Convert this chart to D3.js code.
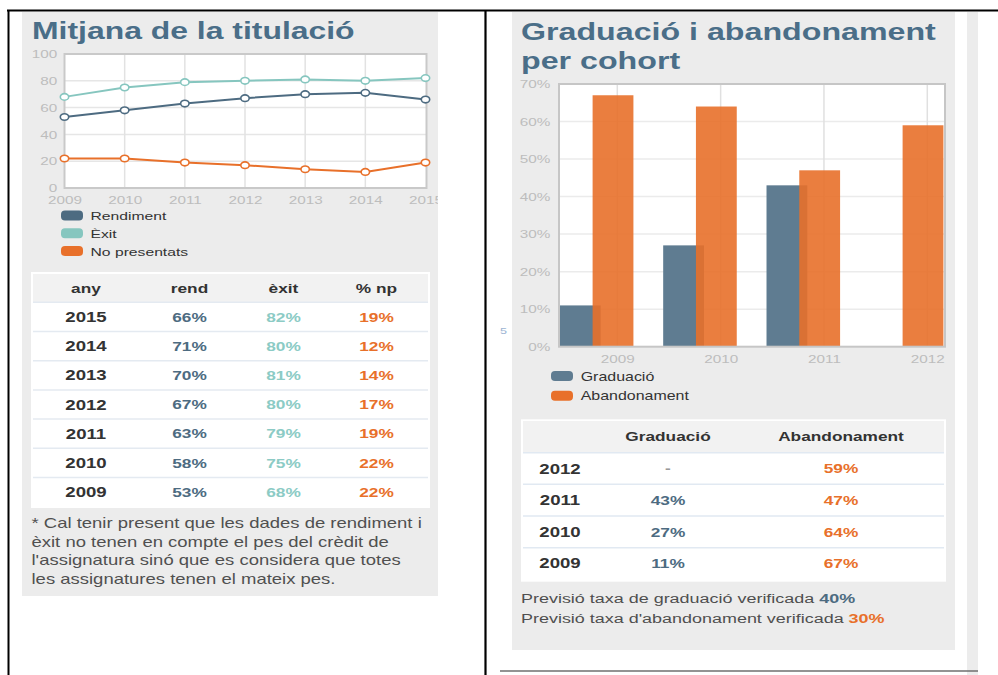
<!DOCTYPE html>
<html>
<head>
<meta charset="utf-8">
<script src="https://cdn.jsdelivr.net/npm/d3@7"></script>
<style>
  body { margin: 0; background: #fff; }
  svg { display: block; font-family: "Liberation Sans", Arial, sans-serif; }
</style>
</head>
<body>
<script>
// ---- data: left panel (Mitjana de la titulació)
var years = [2009, 2010, 2011, 2012, 2013, 2014, 2015];
var rendiment = [53, 58, 63, 67, 70, 71, 66];
var exitRate = [68, 75, 79, 80, 81, 80, 82];
var noPresentats = [22, 22, 19, 17, 14, 12, 19];
var leftTicks = [0, 20, 40, 60, 80, 100];

// ---- data: right panel (Graduació i abandonament per cohort)
var cohorts = [2009, 2010, 2011, 2012];
var graduacio = [11, 27, 43, null];
var abandonament = [67, 64, 47, 59];
var rightTicks = [0, 10, 20, 30, 40, 50, 60, 70];
var previsioGrad = 40, previsioAband = 30;

var footnote = [
  "* Cal tenir present que les dades de rendiment i",
  "èxit no tenen en compte el pes del crèdit de",
  "l'assignatura sinó que es considera que totes",
  "les assignatures tenen el mateix pes."
];

var SX = 1.33; // the picture is stretched sideways
var cRend = "#4d6b81", cExit = "#86c6bf", cNp = "#e8702a";
var cGrad = "#5f7c91", cAband = "#e8702a";
var titleCol = "#4a6e88";

var svg = d3.select("body").append("svg").attr("width", 998).attr("height", 675);

function stext(g, x, y, str, size, fill, weight, anchor) {
  return g.append("text")
    .attr("transform", "translate(" + x + "," + y + ") scale(" + SX + ",1)")
    .attr("font-size", size).attr("fill", fill)
    .attr("font-weight", weight || "normal")
    .attr("text-anchor", anchor || "start")
    .text(str);
}

// ================= LEFT PANEL
svg.append("clipPath").attr("id", "clipL").append("rect")
  .attr("x", 22).attr("y", 12).attr("width", 416).attr("height", 584);
var L = svg.append("g").attr("clip-path", "url(#clipL)");
L.append("rect").attr("x", 22).attr("y", 12).attr("width", 416).attr("height", 584).attr("fill", "#ececec");
stext(L, 32, 39, "Mitjana de la titulació", 24, titleCol, "bold");

var xL = d3.scaleLinear().domain([2009, 2015]).range([64.5, 425.5]);
var yL = d3.scaleLinear().domain([0, 100]).range([188, 54]);

L.append("rect").attr("x", 64.5).attr("y", 54).attr("width", 362).attr("height", 134).attr("fill", "#fff");
L.selectAll(".hg").data(leftTicks.slice(1, -1)).enter().append("line")
  .attr("x1", 64.5).attr("x2", 426.5).attr("y1", d => yL(d)).attr("y2", d => yL(d))
  .attr("stroke", "#e6e6e6").attr("stroke-width", 1.5);
L.selectAll(".vg").data(years.slice(1, -1)).enter().append("line")
  .attr("y1", 54).attr("y2", 188).attr("x1", d => xL(d)).attr("x2", d => xL(d))
  .attr("stroke", "#e2e2e2").attr("stroke-width", 1.5);
L.append("rect").attr("x", 64.5).attr("y", 54).attr("width", 362).attr("height", 134)
  .attr("fill", "none").attr("stroke", "#c9c9c9").attr("stroke-width", 2);

var axL = L.append("g").attr("transform", "translate(64.5,0)")
  .call(d3.axisLeft(yL).tickValues(leftTicks).tickSize(0).tickPadding(5.5));
var axB = L.append("g").attr("transform", "translate(0,188)")
  .call(d3.axisBottom(xL).tickValues(years).tickFormat(d3.format("d")).tickSize(0).tickPadding(7.5));
[axL, axB].forEach(function (a) {
  a.select(".domain").remove();
  a.selectAll("text").attr("transform", "scale(" + SX + ",1)")
    .attr("fill", "#bdbdbd").attr("font-size", 11.5).attr("font-family", "Liberation Sans, Arial, sans-serif");
});

var series = [
  { name: "Èxit", vals: exitRate, color: cExit },
  { name: "Rendiment", vals: rendiment, color: cRend },
  { name: "No presentats", vals: noPresentats, color: cNp }
];
var line = d3.line().x((d, i) => xL(years[i])).y(d => yL(d));
series.forEach(function (s) {
  L.append("path").attr("d", line(s.vals)).attr("fill", "none")
    .attr("stroke", s.color).attr("stroke-width", 2);
  L.selectAll(null).data(s.vals).enter().append("ellipse")
    .attr("cx", (d, i) => xL(years[i])).attr("cy", d => yL(d))
    .attr("rx", 4.2).attr("ry", 3.3).attr("fill", "#fff")
    .attr("stroke", s.color).attr("stroke-width", 1.6);
});

var legL = [["Rendiment", cRend], ["Èxit", cExit], ["No presentats", cNp]];
legL.forEach(function (d, i) {
  var cy = 215.5 + i * 17.8;
  L.append("rect").attr("x", 61).attr("y", cy - 5).attr("width", 22).attr("height", 10)
    .attr("rx", 4).attr("fill", d[1]);
  stext(L, 90.5, cy + 4.5, d[0], 11.8, "#333");
});

// left table
L.append("rect").attr("x", 31).attr("y", 272).attr("width", 399).attr("height", 236).attr("fill", "#fff");
L.append("rect").attr("x", 33).attr("y", 274).attr("width", 395).attr("height", 28).attr("fill", "#f2f2f2");
var colL = [86, 189.5, 283.5, 376.5];
["any", "rend", "èxit", "% np"].forEach(function (h, i) {
  stext(L, colL[i], 292.5, h, 13, "#333", "bold", "middle");
});
var rowsL = years.slice().reverse();
var rowH = 29.2;
rowsL.forEach(function (yr, r) {
  var idx = years.indexOf(yr);
  var cy = 316.9 + r * rowH;
  L.append("line").attr("x1", 33).attr("x2", 428).attr("y1", cy - rowH / 2).attr("y2", cy - rowH / 2)
    .attr("stroke", "#e4eaf1").attr("stroke-width", 1.5);
  stext(L, colL[0], cy + 5, yr, 14, "#333", "bold", "middle");
  stext(L, colL[1], cy + 4.7, rendiment[idx] + "%", 13, cRend, "bold", "middle");
  stext(L, colL[2], cy + 4.7, exitRate[idx] + "%", 13, "#8ccbc5", "bold", "middle");
  stext(L, colL[3], cy + 4.7, noPresentats[idx] + "%", 13, cNp, "bold", "middle");
});
footnote.forEach(function (t, i) {
  stext(L, 31.5, 528.3 + i * 18.5, t, 13.9, "#505050");
});

// ================= RIGHT PANEL
var R = svg.append("g");
R.append("rect").attr("x", 512).attr("y", 12).attr("width", 443).attr("height", 638).attr("fill", "#ececec");
stext(R, 521, 40, "Graduació i abandonament", 24.2, titleCol, "bold");
stext(R, 521, 69, "per cohort", 24.2, titleCol, "bold");

var xR = d3.scaleLinear().domain([2009, 2012]).range([617.3, 927.3]);
var yR = d3.scaleLinear().domain([0, 70]).range([346.7, 84]);
var pl = 559, pr = 945;

R.append("rect").attr("x", pl).attr("y", yR(70)).attr("width", pr - pl).attr("height", yR(0) - yR(70)).attr("fill", "#fff");
R.selectAll(".hg").data(rightTicks.slice(1, -1)).enter().append("line")
  .attr("x1", pl).attr("x2", pr).attr("y1", d => yR(d)).attr("y2", d => yR(d))
  .attr("stroke", "#ebebeb").attr("stroke-width", 1.5);
R.selectAll(".vg").data(cohorts).enter().append("line")
  .attr("y1", yR(70)).attr("y2", yR(0)).attr("x1", d => xR(d)).attr("x2", d => xR(d))
  .attr("stroke", "#e0e0e0").attr("stroke-width", 1.5);

var barW = 0.395, offGrad = -0.556, offAband = -0.239;
R.selectAll(".bg").data(cohorts.filter((c, i) => graduacio[i] != null)).enter().append("rect")
  .attr("x", d => xR(d + offGrad)).attr("width", d => xR(d + offGrad + barW) - xR(d + offGrad))
  .attr("y", d => yR(graduacio[cohorts.indexOf(d)]))
  .attr("height", d => yR(0) - yR(graduacio[cohorts.indexOf(d)]))
  .attr("fill", cGrad);
R.selectAll(".ba").data(cohorts).enter().append("rect")
  .attr("x", d => xR(d + offAband)).attr("width", d => Math.min(xR(d + offAband + barW), pr) - xR(d + offAband))
  .attr("y", (d, i) => yR(abandonament[i]))
  .attr("height", (d, i) => yR(0) - yR(abandonament[i]))
  .attr("fill", cAband).attr("fill-opacity", 0.9);
R.append("rect").attr("x", pl).attr("y", yR(70)).attr("width", pr - pl).attr("height", yR(0) - yR(70))
  .attr("fill", "none").attr("stroke", "#c6c6c6").attr("stroke-width", 2);

var axRL = R.append("g").attr("transform", "translate(" + pl + ",0)")
  .call(d3.axisLeft(yR).tickValues(rightTicks).tickFormat(d => d + "%").tickSize(0).tickPadding(6.5));
var axRB = R.append("g").attr("transform", "translate(0," + yR(0) + ")")
  .call(d3.axisBottom(xR).tickValues(cohorts).tickFormat(d3.format("d")).tickSize(0).tickPadding(8));
[axRL, axRB].forEach(function (a) {
  a.select(".domain").remove();
  a.selectAll("text").attr("transform", "scale(" + SX + ",1)")
    .attr("fill", "#bdbdbd").attr("font-size", 11.5).attr("font-family", "Liberation Sans, Arial, sans-serif");
});

[["Graduació", cGrad], ["Abandonament", cAband]].forEach(function (d, i) {
  var cy = 376 + i * 19.7;
  R.append("rect").attr("x", 551).attr("y", cy - 5).attr("width", 22).attr("height", 10)
    .attr("rx", 4).attr("fill", d[1]);
  stext(R, 580.7, cy + 4.5, d[0], 12, "#333");
});

// right table
R.append("rect").attr("x", 521).attr("y", 419.3).attr("width", 425).attr("height", 162.4).attr("fill", "#fff");
R.append("rect").attr("x", 523).attr("y", 421).attr("width", 421).attr("height", 31.7).attr("fill", "#f2f2f2");
var colR = [560, 668, 841];
stext(R, colR[1], 440.7, "Graduació", 13, "#333", "bold", "middle");
stext(R, colR[2], 440.7, "Abandonament", 13, "#333", "bold", "middle");
var rowsR = cohorts.slice().reverse();
var rowHR = 31.65;
rowsR.forEach(function (c, r) {
  var idx = cohorts.indexOf(c);
  var cy = 468.5 + r * rowHR;
  R.append("line").attr("x1", 523).attr("x2", 944).attr("y1", cy - rowHR / 2).attr("y2", cy - rowHR / 2)
    .attr("stroke", "#e1e9f2").attr("stroke-width", 1.5);
  stext(R, colR[0], cy + 5, c, 14, "#333", "bold", "middle");
  if (graduacio[idx] == null) stext(R, colR[1], cy + 4.7, "-", 13, "#999", "bold", "middle");
  else stext(R, colR[1], cy + 4.7, graduacio[idx] + "%", 13, cRend, "bold", "middle");
  stext(R, colR[2], cy + 4.7, abandonament[idx] + "%", 13, cNp, "bold", "middle");
});

var p1 = stext(R, 521, 603.3, "Previsió taxa de graduació verificada ", 13.5, "#4f4f4f");
p1.append("tspan").attr("font-weight", "bold").attr("fill", cRend).text(previsioGrad + "%");
var p2 = stext(R, 521, 623.3, "Previsió taxa d'abandonament verificada ", 13.5, "#4f4f4f");
p2.append("tspan").attr("font-weight", "bold").attr("fill", cNp).text(previsioAband + "%");

// stray bits of the page around the panels
stext(svg, 500, 333.5, "5", 9.5, "#9db5d3");
svg.append("rect").attr("x", 967).attr("y", 12).attr("width", 11).attr("height", 663).attr("fill", "#ececec");

// document frame lines
svg.append("line").attr("x1", 7).attr("x2", 998).attr("y1", 10.5).attr("y2", 10.5).attr("stroke", "#000").attr("stroke-width", 1.8);
svg.append("line").attr("x1", 8.5).attr("x2", 8.5).attr("y1", 10).attr("y2", 675).attr("stroke", "#000").attr("stroke-width", 2);
svg.append("line").attr("x1", 485.5).attr("x2", 485.5).attr("y1", 10).attr("y2", 675).attr("stroke", "#000").attr("stroke-width", 2.2);
svg.append("line").attr("x1", 500).attr("x2", 978).attr("y1", 671).attr("y2", 671).attr("stroke", "#6f6f6f").attr("stroke-width", 1.5);
</script>
</body>
</html>
